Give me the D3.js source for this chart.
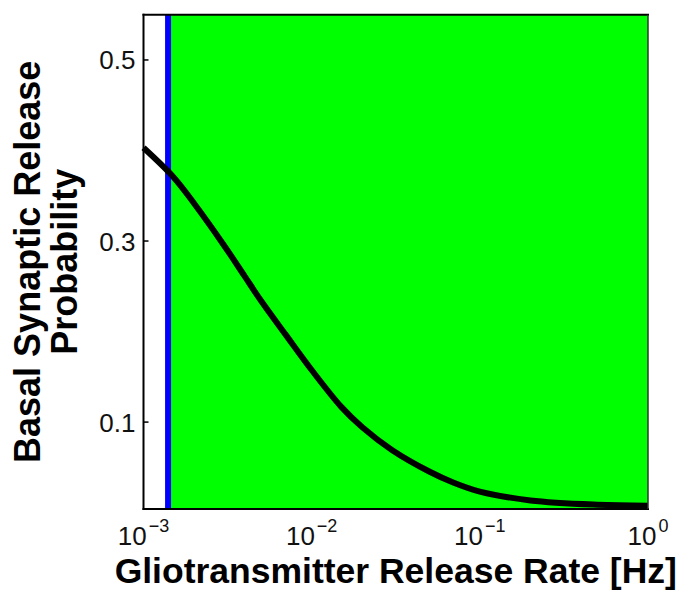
<!DOCTYPE html>
<html>
<head>
<meta charset="utf-8">
<script src="https://cdn.jsdelivr.net/npm/d3@7"></script>
<style>
  html, body { margin: 0; padding: 0; background: #fff; }
  svg { display: block; font-family: "Liberation Sans", Arial, Helvetica, sans-serif; }
</style>
</head>
<body>
<svg id="chart" width="683" height="593"></svg>
<script>
// Gliotransmitter release rate (Hz) and basal synaptic release probability
const rateHz = [0.001, 0.0015, 0.002, 0.003, 0.004, 0.005, 0.007, 0.01, 0.015, 0.02, 0.03, 0.05, 0.07, 0.1, 0.2, 0.5, 1];
const releaseProb = [0.403, 0.371, 0.3415, 0.2957, 0.261, 0.234, 0.1966, 0.1575, 0.1168, 0.0943, 0.0692, 0.0454, 0.0330, 0.0232, 0.0135, 0.0088, 0.0077];

// Threshold rate: region above it is shaded
const thresholdRate = 0.0014;

// Axis ticks
const xTickExponents = [-3, -2, -1, 0];
const yTicks = [0.1, 0.3, 0.5];

const xDomain = [0.001, 1];
const yDomain = [0.004, 0.55];

const margin = { left: 143.5, right: 35, top: 14.7, bottom: 84 };
const W = 683, H = 593;

const svg = d3.select("#chart");

const x = d3.scaleLog().domain(xDomain).range([margin.left, W - margin.right]);
const y = d3.scaleLinear().domain(yDomain).range([H - margin.bottom, margin.top]);

const x0 = x.range()[0], x1 = x.range()[1];
const yTop = y.range()[1], yBot = y.range()[0];

// Inward y ticks on the left edge
svg.append("g")
  .selectAll("line")
  .data(yTicks)
  .join("line")
  .attr("x1", x0).attr("x2", x0 + 5)
  .attr("y1", d => y(d)).attr("y2", d => y(d))
  .attr("stroke", "#000").attr("stroke-width", 1.5);

// Shaded region beyond the threshold rate
svg.append("rect")
  .attr("x", x(thresholdRate))
  .attr("y", yTop)
  .attr("width", x1 - x(thresholdRate))
  .attr("height", yBot - yTop)
  .attr("fill", "#00ff00");

// Threshold marker
svg.append("line")
  .attr("x1", x(thresholdRate)).attr("x2", x(thresholdRate))
  .attr("y1", yTop).attr("y2", yBot)
  .attr("stroke", "#0000ff").attr("stroke-width", 6);

// Release probability curve
const line = d3.line()
  .x((d, i) => x(rateHz[i]))
  .y(d => y(d))
  .curve(d3.curveCatmullRom.alpha(0.5));

svg.append("path")
  .datum(releaseProb)
  .attr("d", line)
  .attr("fill", "none")
  .attr("stroke", "#000")
  .attr("stroke-width", 6)
  .attr("stroke-linejoin", "round");

// Axes box
svg.append("line").attr("x1", x0).attr("x2", x0).attr("y1", yTop - 1).attr("y2", yBot + 1)
  .attr("stroke", "#000").attr("stroke-width", 2);
svg.append("line").attr("x1", x0 - 1).attr("x2", x1 + 1).attr("y1", yBot).attr("y2", yBot)
  .attr("stroke", "#000").attr("stroke-width", 2);
svg.append("line").attr("x1", x0 - 1).attr("x2", x1 + 1).attr("y1", yTop).attr("y2", yTop)
  .attr("stroke", "#000").attr("stroke-width", 2);
svg.append("line").attr("x1", x1).attr("x2", x1).attr("y1", yTop).attr("y2", yBot)
  .attr("stroke", "#333").attr("stroke-width", 1.5);

// Y tick labels
svg.append("g")
  .selectAll("text")
  .data(yTicks)
  .join("text")
  .attr("x", x0 - 8)
  .attr("y", d => y(d) + 9.5)
  .attr("text-anchor", "end")
  .attr("font-size", 26)
  .attr("fill", "#111")
  .text(d => d3.format(".1f")(d));

// X tick labels as powers of ten: base and exponent set side by side,
// the pair centred on its tick
const xg = svg.append("g");
xTickExponents.forEach(e => {
  const cx = x(Math.pow(10, e));
  const base = xg.append("text")
    .attr("y", 545)
    .attr("font-size", 26)
    .attr("fill", "#111")
    .text("10");
  const sup = xg.append("text")
    .attr("y", 532)
    .attr("font-size", 18)
    .attr("fill", "#111")
    .text(e < 0 ? "\u2212" + Math.abs(e) : String(e));
  const wb = base.node().getComputedTextLength();
  const ws = sup.node().getComputedTextLength();
  const gap = 2;
  const left = cx - (wb + gap + ws) / 2;
  base.attr("x", left);
  sup.attr("x", left + wb + gap);
});

// Axis titles
svg.append("text")
  .attr("x", (x0 + x1) / 2)
  .attr("y", 583)
  .attr("text-anchor", "middle")
  .attr("font-size", 35.5)
  .attr("font-weight", "bold")
  .attr("fill", "#000")
  .text("Gliotransmitter Release Rate [Hz]");

const yc = (yTop + yBot) / 2;
svg.append("text")
  .attr("transform", `translate(40,${yc}) rotate(-90)`)
  .attr("text-anchor", "middle")
  .attr("font-size", 36)
  .attr("font-weight", "bold")
  .attr("fill", "#000")
  .text("Basal Synaptic Release");
svg.append("text")
  .attr("transform", `translate(77,${yc}) rotate(-90)`)
  .attr("text-anchor", "middle")
  .attr("font-size", 36)
  .attr("font-weight", "bold")
  .attr("fill", "#000")
  .text("Probability");
</script>
</body>
</html>
